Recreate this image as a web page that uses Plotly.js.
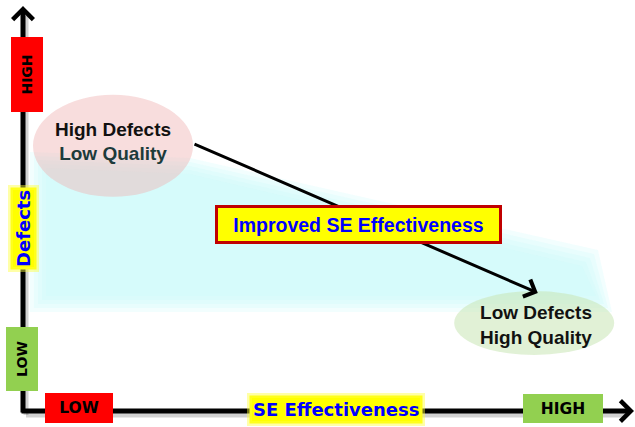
<!DOCTYPE html>
<html>
<head>
<meta charset="utf-8">
<script src="https://cdn.plot.ly/plotly-3.0.1.min.js"></script>
<style>html,body{margin:0;padding:0;background:#fff;}#chart{width:635px;height:427px;}</style>
</head>
<body>
<div id="chart"></div>
<script>
// ---- data ----
const xAxisTitle = "SE Effectiveness";
const yAxisTitle = "Defects";
const levelLabels = ["LOW", "HIGH"];
const levelX = [0.93, 9.0];      // LOW / HIGH along SE Effectiveness
const levelY = [1.3, 8.4];       // LOW / HIGH along Defects
const states = ["High Defects", "Low Defects"];
const qualities = ["Low Quality", "High Quality"];
const effectiveness = [1.5, 8.55];
const defects = [6.69, 2.1];
const trendLabel = "Improved SE Effectiveness";

// ---- geometry helpers (pixel <-> axis units) ----
const W = 635, H = 427, OX = 23, OY = 411, SX = 60, SY = 40;
const px2x = p => (p - OX) / SX;
const py2y = p => (OY - p) / SY;
const P = (x, y) => (x / W).toFixed(4) + ',' + (1 - y / H).toFixed(4);
const poly = pts => 'M' + pts.map(p => P(p[0], p[1])).join('L') + 'Z';

const shapes = [];
// soft cyan band (stacked translucent layers for a blurred edge)
[0, 4, 8, 12, 16].forEach(d => {
  const pts = [[30 + d, 152 + d], [190, 158 + d], [598 - d, 250 + d], [612 - d, 312 - d], [30 + d, 312 - d]];
  shapes.push({type:'path', xref:'paper', yref:'paper', path: poly(pts),
    fillcolor:'rgba(200,250,250,0.24)', line:{width:0}, layer:'below'});
});
// state ellipses
const ellR = [[80/SX, 51/SY], [80/SX, 32/SY]];
const ellDy = [-0.06, 0.1];
const ellFill = ['rgba(240,180,180,0.45)', 'rgba(200,230,180,0.55)'];
effectiveness.forEach((e, i) => {
  const cx = e - (i === 1 ? 0.03 : 0), cy = defects[i] + ellDy[i];
  shapes.push({type:'circle', xref:'x', yref:'y',
    x0: cx - ellR[i][0], x1: cx + ellR[i][0], y0: cy - ellR[i][1], y1: cy + ellR[i][1],
    fillcolor: ellFill[i], line:{width:0}, layer:'below'});
});
// axis shadows
shapes.push({type:'line', xref:'paper', yref:'paper', x0:26/W, x1:26/W, y0:1-16/H, y1:1-415/H,
  line:{color:'rgba(0,0,0,0.18)', width:5}});
shapes.push({type:'line', xref:'paper', yref:'paper', x0:26/W, x1:626/W, y0:1-415/H, y1:1-415/H,
  line:{color:'rgba(0,0,0,0.18)', width:5}});

const annotations = [];
// axes with arrowheads
annotations.push({x:0, y:py2y(6), ax:0, ay:py2y(414), xref:'x', yref:'y', axref:'x', ayref:'y',
  showarrow:true, arrowhead:4, arrowsize:0.8, arrowwidth:5, arrowcolor:'#000', text:''});
annotations.push({x:px2x(634), y:0, ax:px2x(20), ay:0, xref:'x', yref:'y', axref:'x', ayref:'y',
  showarrow:true, arrowhead:4, arrowsize:0.8, arrowwidth:5, arrowcolor:'#000', text:''});
// trend arrow between the two states
const sx = effectiveness[0] + ellR[0][0], sy = defects[0] + 0.0;
const ex = effectiveness[1] + 0.03, ey = defects[1] + 0.85;
annotations.push({x:ex, y:ey, ax:sx, ay:sy, xref:'x', yref:'y', axref:'x', ayref:'y',
  showarrow:true, arrowhead:4, arrowsize:1.2, arrowwidth:3, arrowcolor:'#000', text:''});
// level boxes
const xLevelColors = ['#FF0000', '#92D050'];
const yLevelColors = ['#92D050', '#FF0000'];
const xLevelSize = [[68,30],[80,29]];
const yLevelSize = [[64,32],[75,32]];
const yLevelShift = [-1, 4];
const lvlFontH = {family:'DejaVu Sans', size:15.5, color:'#000', weight:'bold'};
const lvlFontV = {family:'DejaVu Sans', size:14, color:'#000', weight:'bold'};
levelLabels.forEach((t, i) => {
  annotations.push({x:levelX[i], y:0, xref:'x', yref:'y', yshift:3, text:t, showarrow:false,
    bgcolor:xLevelColors[i], width:xLevelSize[i][0], height:xLevelSize[i][1], borderpad:0, borderwidth:0, font:lvlFontH});
  annotations.push({x:0, y:levelY[i], xref:'x', yref:'y', xshift:yLevelShift[i], text:t, showarrow:false, textangle:-90,
    bgcolor:yLevelColors[i], width:yLevelSize[i][0], height:yLevelSize[i][1], borderpad:0, borderwidth:0, font:lvlFontV});
});
// axis titles with yellow glow
const titleFont = {family:'DejaVu Sans', size:18, color:'#0000FF', weight:'bold'};
annotations.push({x:px2x(336), y:0, xref:'x', yref:'y', yshift:2, text:xAxisTitle, showarrow:false,
  bgcolor:'#FFFF00', bordercolor:'rgba(255,255,60,0.45)', borderwidth:5, borderpad:1, font:titleFont});
annotations.push({x:0, y:py2y(229), xref:'x', yref:'y', xshift:0, text:yAxisTitle, showarrow:false, textangle:-90,
  bgcolor:'#FFFF00', bordercolor:'rgba(255,255,60,0.45)', borderwidth:5, borderpad:0, font:titleFont});
// trend label box
annotations.push({x:(sx + ex) / 2, y:(sy + ey) / 2, xref:'x', yref:'y', xshift:-7, yshift:-6,
  text:trendLabel, showarrow:false, bgcolor:'#FFFF00', bordercolor:'#C00000', borderwidth:3, borderpad:0,
  width:281, height:33, font:{family:'Liberation Sans', size:19.5, color:'#0000FF', weight:'bold'}});

const stateText = states.map((s, i) => '<span style="color:#111">' + s + '</span><br>' +
  '<span style="color:' + (i === 0 ? '#1d3b3b' : '#111') + '">' + qualities[i] + '</span>');

const trace = {x:effectiveness, y:defects, mode:'text', type:'scatter', text:stateText,
  textposition:'middle center', hoverinfo:'skip',
  textfont:{family:'Liberation Sans', size:19, color:'#111', weight:'bold'}};

const layout = {
  width:W, height:H, margin:{l:0, r:0, t:0, b:0},
  paper_bgcolor:'#fff', plot_bgcolor:'#fff', showlegend:false,
  xaxis:{range:[px2x(0), px2x(W)], visible:false, fixedrange:true},
  yaxis:{range:[py2y(H), py2y(0)], visible:false, fixedrange:true},
  shapes:shapes, annotations:annotations
};
Plotly.newPlot('chart', [trace], layout, {displayModeBar:false, staticPlot:true});
</script>
</body>
</html>
